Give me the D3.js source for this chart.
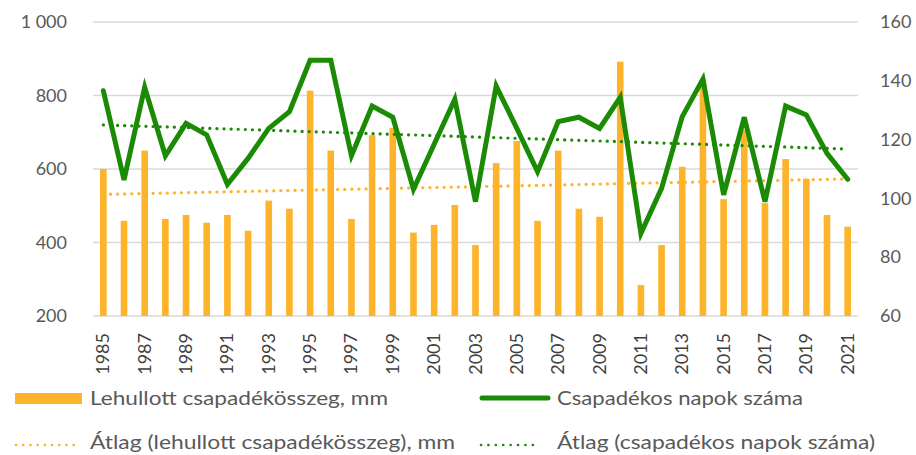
<!DOCTYPE html>
<html><head><meta charset="utf-8">
<script src="https://cdn.jsdelivr.net/npm/d3@7"></script>
<style>body{margin:0;background:#fff}svg{display:block}</style>
</head><body><svg id="c" width="916" height="455"></svg>
<script>
const years = d3.range(1985, 2022).map(String);
const rain = [600,459,650,464,475,454,475,432,514,492,813,650,464,692,712,427,448,502,393,616,676,459,650,492,470,892,284,393,606,845,518,706,507,627,573,475,443];
const days = [136.6,106.3,137.8,114.5,125.5,121.6,104.8,113.6,123.8,129.5,147,147,114.5,131.4,127.6,103.1,118.4,133.7,98.9,138.2,123.8,109.1,126.1,127.6,123.8,134.4,88.1,103.4,127.8,140.6,101.2,127.6,98.9,131.4,128.4,115.3,106.5];
const rainTrend = [531, 573];
const daysTrend = [125, 116.8];
const leftTicks = [200,400,600,800,1000];
const rightTicks = [60,80,100,120,140,160];
const names = ["Lehullott csapadékösszeg, mm","Csapadékos napok száma","Átlag (lehullott csapadékösszeg), mm","Átlag (csapadékos napok száma)"];

const ORANGE="#FDB32A", GREEN="#1B8A05", GRID="#D9D9D9", TXT="#595959";
const FONT="Lato, 'Open Sans', sans-serif";
const svg = d3.select("#c");
const L=93, R=858, T=22, B=316;
const x = d3.scaleBand().domain(years).range([L,R]).paddingInner(0.68).paddingOuter(0.34);
const yL = d3.scaleLinear().domain([200,1000]).range([B,T]);
const yR = d3.scaleLinear().domain([60,160]).range([B,T]);
const cx = d => x(d)+x.bandwidth()/2;

// grid
svg.append("g").selectAll("line").data(leftTicks).join("line")
  .attr("x1",L).attr("x2",R).attr("y1",d=>yL(d)).attr("y2",d=>yL(d))
  .attr("stroke",GRID).attr("stroke-width",1.5);

// axes
const fmt = d => d>=1000 ? d3.format(",")(d).replace(","," ") : String(d);
const ga = svg.append("g").attr("transform",`translate(${L},0)`)
  .call(d3.axisLeft(yL).tickValues(leftTicks).tickFormat(fmt).tickSize(0).tickPadding(26));
ga.select(".domain").remove();
ga.selectAll("text").attr("font-family",FONT).attr("font-size",18).attr("fill",TXT);
const gr = svg.append("g").attr("transform",`translate(${R},0)`)
  .call(d3.axisRight(yR).tickValues(rightTicks).tickSize(0).tickPadding(22));
gr.select(".domain").remove();
gr.selectAll("text").attr("font-family",FONT).attr("font-size",18).attr("fill",TXT);

// x labels (rotated)
const xl = svg.append("g").attr("class","xlabels");
xl.selectAll("text").data(years.filter((d,i)=>i%2===0)).join("text")
  .attr("transform",d=>`translate(${cx(d)+6},${B+17}) rotate(-90)`)
  .attr("text-anchor","end")
  .attr("font-family",FONT).attr("font-size",18).attr("fill","#404040")
  .text(d=>d);

// bars
svg.append("g").selectAll("rect").data(years).join("rect")
  .attr("x",d=>x(d)).attr("width",x.bandwidth())
  .attr("y",(d,i)=>yL(rain[i])).attr("height",(d,i)=>B-yL(rain[i]))
  .attr("fill",ORANGE);

// trends
const ends = [years[0], years[years.length-1]];
svg.append("line").attr("x1",cx(ends[0])).attr("x2",cx(ends[1]))
  .attr("y1",yL(rainTrend[0])).attr("y2",yL(rainTrend[1]))
  .attr("stroke",ORANGE).attr("stroke-width",3.2).attr("stroke-dasharray","0.1 7").attr("stroke-linecap","round");
svg.append("line").attr("x1",cx(ends[0])).attr("x2",cx(ends[1]))
  .attr("y1",yR(daysTrend[0])).attr("y2",yR(daysTrend[1]))
  .attr("stroke",GREEN).attr("stroke-width",3.2).attr("stroke-dasharray","0.1 7").attr("stroke-linecap","round");

// line
svg.append("path").datum(days)
  .attr("d",d3.line().x((d,i)=>cx(years[i])).y(d=>yR(d)))
  .attr("fill","none").attr("stroke",GREEN).attr("stroke-width",5).attr("stroke-linejoin","miter").attr("stroke-linecap","round");

// legend
const lg = svg.append("g").attr("font-family",FONT).attr("font-size",20).attr("fill",TXT);
function txt(xp, yp, s, w){
  lg.append("text").attr("x",xp).attr("y",yp).attr("textLength",w).attr("lengthAdjust","spacingAndGlyphs").text(s);
}
lg.append("rect").attr("x",15).attr("y",393).attr("width",67).attr("height",11).attr("fill",ORANGE);
txt(90,405,names[0],298);
lg.append("line").attr("x1",482).attr("x2",548).attr("y1",398).attr("y2",398).attr("stroke",GREEN).attr("stroke-width",5).attr("stroke-linecap","round");
txt(557,405,names[1],246);
lg.append("line").attr("x1",16).attr("x2",80).attr("y1",445).attr("y2",445).attr("stroke",ORANGE).attr("stroke-width",2.6).attr("stroke-dasharray","0.1 7.1").attr("stroke-linecap","round");
txt(90,449,names[2],365);
lg.append("line").attr("x1",481).attr("x2",540).attr("y1",445).attr("y2",445).attr("stroke",GREEN).attr("stroke-width",2.6).attr("stroke-dasharray","0.1 7.3").attr("stroke-linecap","round");
txt(557,449,names[3],318);
</script></body></html>
